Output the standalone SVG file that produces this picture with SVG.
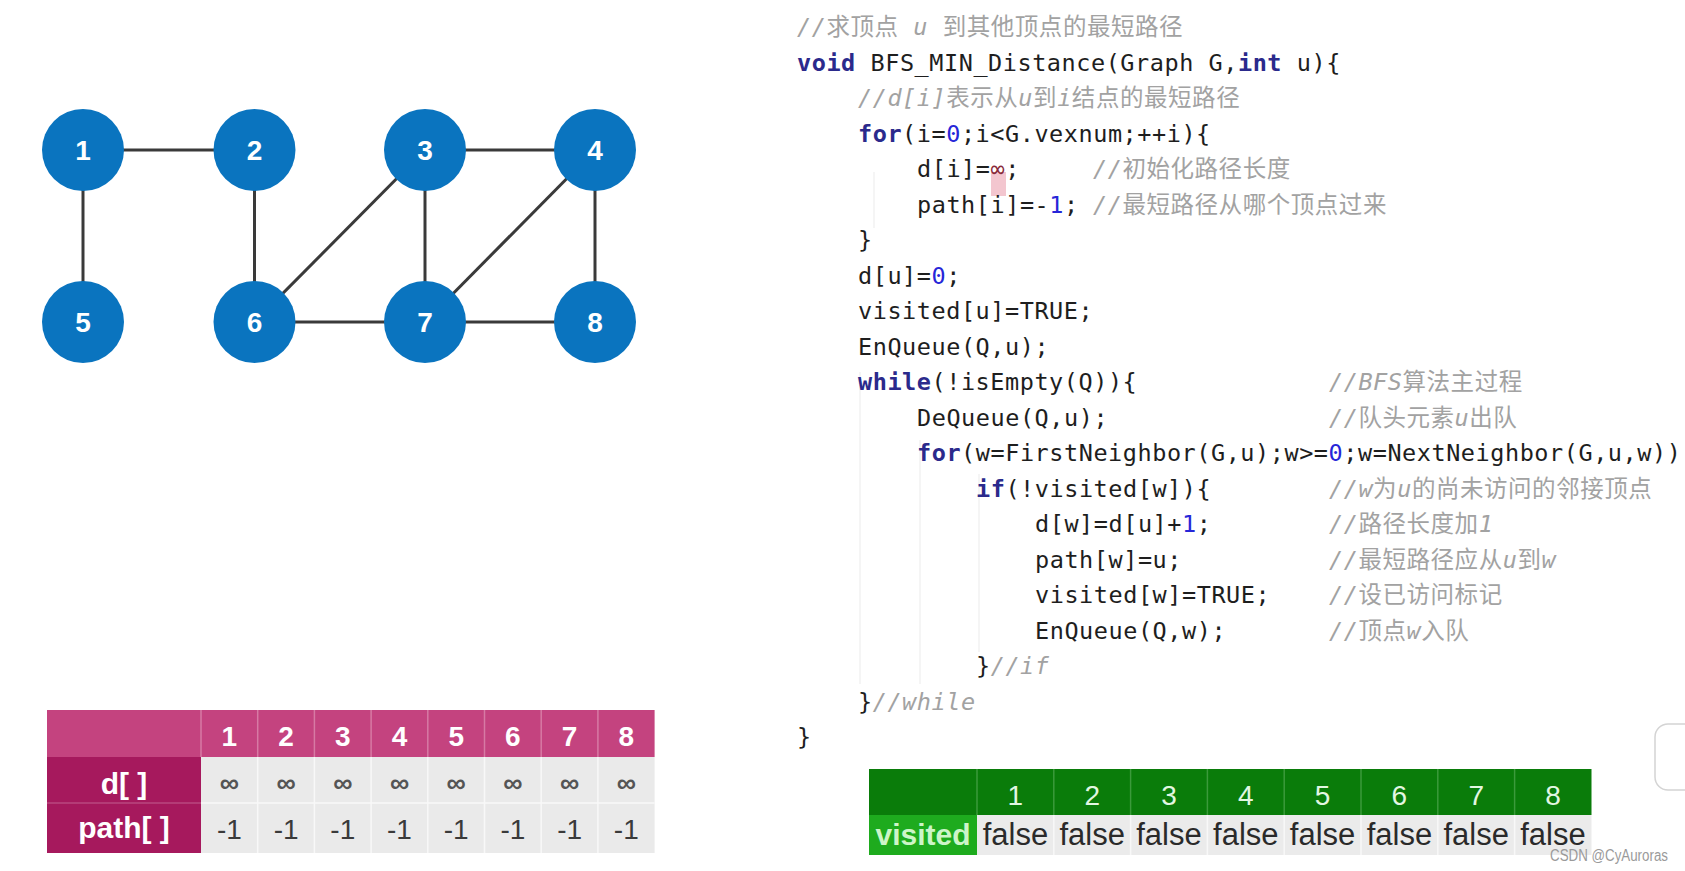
<svg xmlns="http://www.w3.org/2000/svg" width="1685" height="871" viewBox="0 0 1685 871">
  <style>
    .edge { stroke: #3a3a3a; stroke-width: 3; }
    .node circle { fill: #0a74bf; }
    .node text { font-family: "Liberation Sans", Arial, sans-serif; font-size: 28px; font-weight: bold; fill: #ffffff; text-anchor: middle; }
    .code { font-family: "DejaVu Sans Mono", "Noto Sans CJK SC", monospace; font-size: 23.5px; letter-spacing: 0.55px; fill: #1e1e1e; white-space: pre; }
    .kw { font-weight: bold; fill: #2b2a8c; }
    .num { fill: #2626d8; }
    .cm { fill: #a2a2a2; }
    .it { font-style: italic; }
    .guide { stroke: #efefef; stroke-width: 1.2; }
    .th { font-family: "Liberation Sans", Arial, sans-serif; text-anchor: middle; }
    .pink-num { font-size: 28px; font-weight: bold; fill: #ffffff; }
    .pink-lab { font-size: 30px; font-weight: bold; fill: #ffffff; }
    .inf { font-size: 27px; font-weight: bold; fill: #555555; }
    .neg { font-size: 28px; fill: #3a3a3a; }
    .green-num { font-size: 28px; fill: #e2f7e2; }
    .vis { font-size: 30px; font-weight: bold; fill: #cdf5c8; }
    .fal { font-size: 31px; fill: #2a2a2a; }
  </style>

  <rect x="0" y="0" width="1685" height="871" fill="#ffffff"/>

  <!-- undirected graph: edges -->
  <g id="connectors">
    <line class="edge" x1="83" y1="150" x2="254.5" y2="150"/>
    <line class="edge" x1="83" y1="150" x2="83" y2="322"/>
    <line class="edge" x1="254.5" y1="150" x2="254.5" y2="322"/>
    <line class="edge" x1="425" y1="150" x2="595" y2="150"/>
    <line class="edge" x1="425" y1="150" x2="254.5" y2="322"/>
    <line class="edge" x1="425" y1="150" x2="425" y2="322"/>
    <line class="edge" x1="595" y1="150" x2="425" y2="322"/>
    <line class="edge" x1="595" y1="150" x2="595" y2="322"/>
    <line class="edge" x1="254.5" y1="322" x2="425" y2="322"/>
    <line class="edge" x1="425" y1="322" x2="595" y2="322"/>
  </g>

  <!-- graph vertices -->
  <g id="node-1" class="node"><circle cx="83" cy="150" r="41"/><text x="83" y="160">1</text></g>
  <g id="node-2" class="node"><circle cx="254.5" cy="150" r="41"/><text x="254.5" y="160">2</text></g>
  <g id="node-3" class="node"><circle cx="425" cy="150" r="41"/><text x="425" y="160">3</text></g>
  <g id="node-4" class="node"><circle cx="595" cy="150" r="41"/><text x="595" y="160">4</text></g>
  <g id="node-5" class="node"><circle cx="83" cy="322" r="41"/><text x="83" y="332">5</text></g>
  <g id="node-6" class="node"><circle cx="254.5" cy="322" r="41"/><text x="254.5" y="332">6</text></g>
  <g id="node-7" class="node"><circle cx="425" cy="322" r="41"/><text x="425" y="332">7</text></g>
  <g id="node-8" class="node"><circle cx="595" cy="322" r="41"/><text x="595" y="332">8</text></g>

  <!-- d[] / path[] table -->
  <g id="table-d-path" class="th">
    <rect x="47" y="710" width="607.6" height="47" fill="#c4437f"/>
    <rect x="47" y="757" width="154" height="46" fill="#a6195d"/>
    <rect x="47" y="803" width="154" height="50" fill="#a6195d"/>
    <line x1="47" y1="803" x2="201" y2="803" stroke="#b9477f" stroke-width="1.5"/>
    <rect x="201" y="757" width="453.6" height="96" fill="#eaeaea"/>
    <g stroke="#d77aa4" stroke-width="1.5">
      <line x1="201" y1="710" x2="201" y2="757"/>
      <line x1="257.7" y1="710" x2="257.7" y2="757"/>
      <line x1="314.4" y1="710" x2="314.4" y2="757"/>
      <line x1="371.1" y1="710" x2="371.1" y2="757"/>
      <line x1="427.8" y1="710" x2="427.8" y2="757"/>
      <line x1="484.5" y1="710" x2="484.5" y2="757"/>
      <line x1="541.2" y1="710" x2="541.2" y2="757"/>
      <line x1="597.9" y1="710" x2="597.9" y2="757"/>
    </g>
    <g stroke="#f8f8f8" stroke-width="1.5">
      <line x1="257.7" y1="757" x2="257.7" y2="853"/>
      <line x1="314.4" y1="757" x2="314.4" y2="853"/>
      <line x1="371.1" y1="757" x2="371.1" y2="853"/>
      <line x1="427.8" y1="757" x2="427.8" y2="853"/>
      <line x1="484.5" y1="757" x2="484.5" y2="853"/>
      <line x1="541.2" y1="757" x2="541.2" y2="853"/>
      <line x1="597.9" y1="757" x2="597.9" y2="853"/>
      <line x1="201" y1="803" x2="654.6" y2="803"/>
    </g>
    <g class="pink-num">
      <text x="229.4" y="746">1</text>
      <text x="286.1" y="746">2</text>
      <text x="342.8" y="746">3</text>
      <text x="399.5" y="746">4</text>
      <text x="456.2" y="746">5</text>
      <text x="512.9" y="746">6</text>
      <text x="569.6" y="746">7</text>
      <text x="626.3" y="746">8</text>
    </g>
    <text class="pink-lab" x="124" y="794">d[ ]</text>
    <text class="pink-lab" x="124" y="838">path[ ]</text>
    <g class="inf">
      <text x="229.4" y="792">∞</text>
      <text x="286.1" y="792">∞</text>
      <text x="342.8" y="792">∞</text>
      <text x="399.5" y="792">∞</text>
      <text x="456.2" y="792">∞</text>
      <text x="512.9" y="792">∞</text>
      <text x="569.6" y="792">∞</text>
      <text x="626.3" y="792">∞</text>
    </g>
    <g class="neg">
      <text x="229.4" y="839">-1</text>
      <text x="286.1" y="839">-1</text>
      <text x="342.8" y="839">-1</text>
      <text x="399.5" y="839">-1</text>
      <text x="456.2" y="839">-1</text>
      <text x="512.9" y="839">-1</text>
      <text x="569.6" y="839">-1</text>
      <text x="626.3" y="839">-1</text>
    </g>
  </g>

  <!-- faint indentation guides of the editor -->
  <g id="indent-guides">
    <line class="guide" x1="874" y1="172" x2="874" y2="228"/>
    <line class="guide" x1="860" y1="372" x2="860" y2="684"/>
    <line class="guide" x1="920" y1="440" x2="920" y2="684"/>
    <line class="guide" x1="979" y1="474" x2="979" y2="652"/>
  </g>

  <!-- cursor highlight on the infinity sign -->
  <rect x="991" y="172" width="15" height="24" fill="#f3c6cf"/>

  <!-- BFS shortest path source -->
  <g id="code" class="code">
    <text x="797" y="35"><tspan class="cm it">//</tspan><tspan class="cm">求顶点 </tspan><tspan class="cm it">u</tspan><tspan class="cm"> 到其他顶点的最短路径</tspan></text>
    <text x="797" y="70.5"><tspan class="kw">void</tspan> BFS_MIN_Distance(Graph G,<tspan class="kw">int</tspan> u){</text>
    <text x="858" y="106"><tspan class="cm it">//d[i]</tspan><tspan class="cm">表示从</tspan><tspan class="cm it">u</tspan><tspan class="cm">到</tspan><tspan class="cm it">i</tspan><tspan class="cm">结点的最短路径</tspan></text>
    <text x="858" y="141.5"><tspan class="kw">for</tspan>(i=<tspan class="num">0</tspan>;i&lt;G.vexnum;++i){</text>
    <text x="917" y="177">d[i]=<tspan fill="#8a2a3a">∞</tspan>;</text>
    <text x="1093" y="177"><tspan class="cm it">//</tspan><tspan class="cm">初始化路径长度</tspan></text>
    <text x="917" y="212.5">path[i]=-<tspan class="num">1</tspan>;</text>
    <text x="1093" y="212.5"><tspan class="cm it">//</tspan><tspan class="cm">最短路径从哪个顶点过来</tspan></text>
    <text x="858" y="248">}</text>
    <text x="858" y="283.5">d[u]=<tspan class="num">0</tspan>;</text>
    <text x="858" y="319">visited[u]=TRUE;</text>
    <text x="858" y="354.5">EnQueue(Q,u);</text>
    <text x="858" y="390"><tspan class="kw">while</tspan>(!isEmpty(Q)){</text>
    <text x="1329" y="390"><tspan class="cm it">//BFS</tspan><tspan class="cm">算法主过程</tspan></text>
    <text x="917" y="425.5">DeQueue(Q,u);</text>
    <text x="1329" y="425.5"><tspan class="cm it">//</tspan><tspan class="cm">队头元素</tspan><tspan class="cm it">u</tspan><tspan class="cm">出队</tspan></text>
    <text x="917" y="461"><tspan class="kw">for</tspan>(w=FirstNeighbor(G,u);w&gt;=<tspan class="num">0</tspan>;w=NextNeighbor(G,u,w))</text>
    <text x="976" y="496.5"><tspan class="kw">if</tspan>(!visited[w]){</text>
    <text x="1329" y="496.5"><tspan class="cm it">//w</tspan><tspan class="cm">为</tspan><tspan class="cm it">u</tspan><tspan class="cm">的尚未访问的邻接顶点</tspan></text>
    <text x="1035" y="532">d[w]=d[u]+<tspan class="num">1</tspan>;</text>
    <text x="1329" y="532"><tspan class="cm it">//</tspan><tspan class="cm">路径长度加</tspan><tspan class="cm it">1</tspan></text>
    <text x="1035" y="567.5">path[w]=u;</text>
    <text x="1329" y="567.5"><tspan class="cm it">//</tspan><tspan class="cm">最短路径应从</tspan><tspan class="cm it">u</tspan><tspan class="cm">到</tspan><tspan class="cm it">w</tspan></text>
    <text x="1035" y="603">visited[w]=TRUE;</text>
    <text x="1329" y="603"><tspan class="cm it">//</tspan><tspan class="cm">设已访问标记</tspan></text>
    <text x="1035" y="638.5">EnQueue(Q,w);</text>
    <text x="1329" y="638.5"><tspan class="cm it">//</tspan><tspan class="cm">顶点</tspan><tspan class="cm it">w</tspan><tspan class="cm">入队</tspan></text>
    <text x="976" y="674">}<tspan class="cm it">//if</tspan></text>
    <text x="858" y="709.5">}<tspan class="cm it">//while</tspan></text>
    <text x="797" y="745">}</text>
  </g>

  <!-- visited[] table -->
  <g id="table-visited" class="th">
    <rect x="869" y="769" width="722.5" height="46" fill="#0a7c0a"/>
    <rect x="869" y="815" width="108" height="40" fill="#1eab1e"/>
    <rect x="977" y="815" width="614.5" height="40" fill="#ebebeb"/>
    <g stroke="#3b9a3b" stroke-width="1.5">
      <line x1="977" y1="769" x2="977" y2="815"/>
      <line x1="1053.8" y1="769" x2="1053.8" y2="815"/>
      <line x1="1130.6" y1="769" x2="1130.6" y2="815"/>
      <line x1="1207.4" y1="769" x2="1207.4" y2="815"/>
      <line x1="1284.2" y1="769" x2="1284.2" y2="815"/>
      <line x1="1361" y1="769" x2="1361" y2="815"/>
      <line x1="1437.8" y1="769" x2="1437.8" y2="815"/>
      <line x1="1514.6" y1="769" x2="1514.6" y2="815"/>
    </g>
    <g stroke="#f8f8f8" stroke-width="1.5">
      <line x1="1053.8" y1="815" x2="1053.8" y2="855"/>
      <line x1="1130.6" y1="815" x2="1130.6" y2="855"/>
      <line x1="1207.4" y1="815" x2="1207.4" y2="855"/>
      <line x1="1284.2" y1="815" x2="1284.2" y2="855"/>
      <line x1="1361" y1="815" x2="1361" y2="855"/>
      <line x1="1437.8" y1="815" x2="1437.8" y2="855"/>
      <line x1="1514.6" y1="815" x2="1514.6" y2="855"/>
    </g>
    <g class="green-num">
      <text x="1015.4" y="805">1</text>
      <text x="1092.2" y="805">2</text>
      <text x="1169" y="805">3</text>
      <text x="1245.8" y="805">4</text>
      <text x="1322.6" y="805">5</text>
      <text x="1399.4" y="805">6</text>
      <text x="1476.2" y="805">7</text>
      <text x="1553" y="805">8</text>
    </g>
    <text class="vis" x="923" y="845">visited</text>
    <g class="fal">
      <text x="1015.4" y="845">false</text>
      <text x="1092.2" y="845">false</text>
      <text x="1169" y="845">false</text>
      <text x="1245.8" y="845">false</text>
      <text x="1322.6" y="845">false</text>
      <text x="1399.4" y="845">false</text>
      <text x="1476.2" y="845">false</text>
      <text x="1553" y="845">false</text>
    </g>
  </g>

  <!-- side button at the right edge -->
  <rect x="1655" y="724" width="50" height="66" rx="13" fill="#ffffff" stroke="#d4d4d4" stroke-width="1.5"/>

  <!-- watermark -->
  <text x="1550" y="861" font-family="Liberation Sans, Arial, sans-serif" font-size="16" fill="#9a9a9a" textLength="118" lengthAdjust="spacingAndGlyphs">CSDN @CyAuroras</text>
</svg>
